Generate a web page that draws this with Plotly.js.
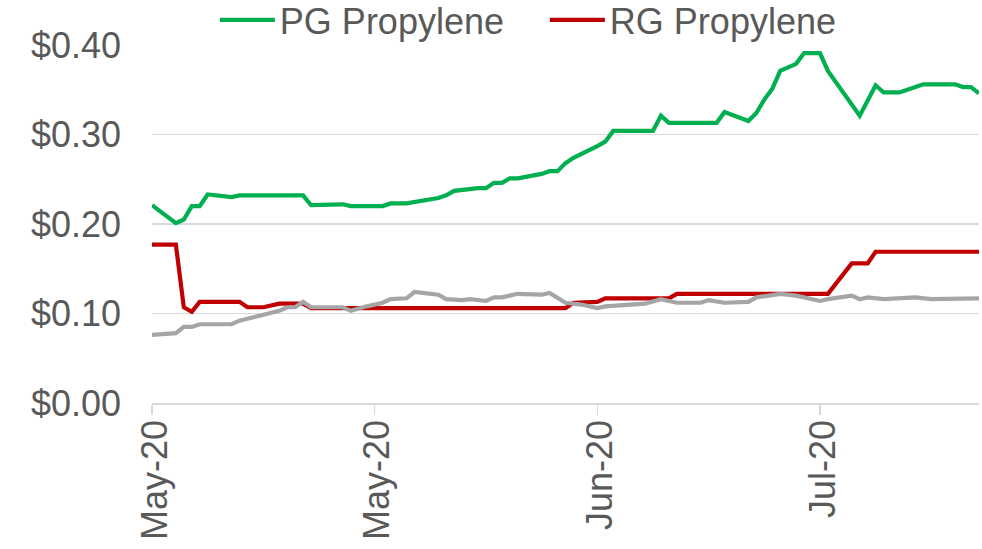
<!DOCTYPE html>
<html>
<head>
<meta charset="utf-8">
<script src="https://cdn.plot.ly/plotly-3.0.1.min.js"></script>
<style>
  html, body { margin: 0; padding: 0; background: #ffffff; }
  #chart { width: 982px; height: 549px; }
</style>
</head>
<body>
<div id="chart"></div>
<script>
// ---- Data ----
const pgDates = ['2020-05-01','2020-05-04','2020-05-05','2020-05-06','2020-05-07','2020-05-08','2020-05-11','2020-05-12','2020-05-20','2020-05-21','2020-05-25','2020-05-26','2020-05-30','2020-05-31','2020-06-02','2020-06-04','2020-06-06','2020-06-07','2020-06-08','2020-06-11','2020-06-12','2020-06-13','2020-06-14','2020-06-15','2020-06-16','2020-06-19','2020-06-20','2020-06-21','2020-06-22','2020-06-23','2020-06-25','2020-06-26','2020-06-27','2020-06-28','2020-07-03','2020-07-04','2020-07-05','2020-07-11','2020-07-12','2020-07-15','2020-07-16','2020-07-17','2020-07-18','2020-07-19','2020-07-21','2020-07-22','2020-07-24','2020-07-25','2020-07-29','2020-07-30','2020-07-31','2020-08-01','2020-08-03','2020-08-05','2020-08-06','2020-08-10','2020-08-11','2020-08-12','2020-08-13'];
const pgValues = [0.221,0.201,0.205,0.220,0.220,0.233,0.230,0.232,0.232,0.221,0.222,0.220,0.220,0.223,0.223,0.226,0.229,0.232,0.237,0.240,0.240,0.246,0.246,0.251,0.251,0.256,0.259,0.259,0.268,0.274,0.282,0.287,0.292,0.304,0.304,0.321,0.313,0.313,0.325,0.315,0.324,0.339,0.351,0.371,0.379,0.391,0.391,0.371,0.321,0.339,0.355,0.347,0.347,0.353,0.356,0.356,0.353,0.353,0.346];

const rgDates = ['2020-05-01','2020-05-04','2020-05-05','2020-05-06','2020-05-07','2020-05-12','2020-05-13','2020-05-15','2020-05-17','2020-05-20','2020-05-21','2020-06-22','2020-06-23','2020-06-26','2020-06-27','2020-07-05','2020-07-06','2020-07-25','2020-07-28','2020-07-30','2020-07-31','2020-08-13'];
const rgValues = [0.177,0.177,0.107,0.102,0.113,0.113,0.107,0.107,0.111,0.111,0.106,0.106,0.112,0.113,0.117,0.117,0.122,0.122,0.156,0.156,0.169,0.169];

const grayDates = ['2020-05-01','2020-05-04','2020-05-05','2020-05-06','2020-05-07','2020-05-11','2020-05-12','2020-05-13','2020-05-14','2020-05-17','2020-05-18','2020-05-19','2020-05-20','2020-05-21','2020-05-25','2020-05-26','2020-05-28','2020-05-30','2020-05-31','2020-06-02','2020-06-03','2020-06-06','2020-06-07','2020-06-09','2020-06-10','2020-06-12','2020-06-13','2020-06-14','2020-06-16','2020-06-19','2020-06-20','2020-06-22','2020-06-24','2020-06-26','2020-06-27','2020-07-02','2020-07-04','2020-07-06','2020-07-09','2020-07-10','2020-07-12','2020-07-15','2020-07-16','2020-07-19','2020-07-21','2020-07-24','2020-07-25','2020-07-28','2020-07-29','2020-07-30','2020-08-01','2020-08-05','2020-08-07','2020-08-10','2020-08-12','2020-08-13'];
const grayValues = [0.076,0.078,0.085,0.085,0.088,0.088,0.092,0.094,0.097,0.103,0.107,0.107,0.113,0.107,0.107,0.103,0.108,0.112,0.116,0.117,0.124,0.121,0.116,0.115,0.116,0.114,0.118,0.118,0.122,0.121,0.123,0.112,0.110,0.106,0.108,0.111,0.116,0.112,0.112,0.115,0.112,0.113,0.118,0.122,0.120,0.114,0.116,0.120,0.116,0.118,0.116,0.118,0.116,0.116,0.117,0.117];

const xTickVals = ['2020-05-01','2020-05-29','2020-06-26','2020-07-24'];
const xTickText = ['May-20','May-20','Jun-20','Jul-20'];
const xRange = ['2020-05-01','2020-08-13'];
const yRange = [0, 0.4];

// ---- Chart ----
const FONT = 'Liberation Sans, Arial, sans-serif';
const TXT = '#595959';

const traces = [
  { type: 'scatter', mode: 'lines', name: 'PG Propylene', x: pgDates, y: pgValues,
    line: { color: '#00B050', width: 4.2 } },
  { type: 'scatter', mode: 'lines', name: 'RG Propylene', x: rgDates, y: rgValues,
    line: { color: '#C00000', width: 4.2 } },
  { type: 'scatter', mode: 'lines', name: 'Series 3', x: grayDates, y: grayValues,
    line: { color: '#A5A5A5', width: 4.2 }, showlegend: false }
];

const layout = {
  width: 982, height: 549,
  margin: { l: 152, r: 3, t: 45, b: 146, autoexpand: false },
  paper_bgcolor: '#ffffff', plot_bgcolor: '#ffffff',
  font: { family: FONT, size: 36, color: TXT },
  showlegend: true,
  legend: {
    orientation: 'h', x: 0.076, xanchor: 'left', y: 1.07, yanchor: 'middle',
    itemwidth: 55, entrywidth: 260, entrywidthmode: 'pixels',
    font: { family: FONT, size: 36, color: TXT }, bgcolor: 'rgba(0,0,0,0)'
  },
  xaxis: {
    type: 'date', range: xRange,
    tickmode: 'array', tickvals: xTickVals, ticktext: xTickText,
    tickangle: -90, ticks: 'outside', ticklen: 10, tickcolor: '#d9d9d9', tickwidth: 1.5,
    ticklabelstandoff: -9, ticklabelshift: 3,
    showline: true, linecolor: '#d9d9d9', linewidth: 1.5,
    showgrid: false, zeroline: false,
    tickfont: { family: FONT, size: 36, color: TXT }
  },
  yaxis: {
    range: yRange, dtick: 0.1, tick0: 0,
    tickprefix: '$', tickformat: '.2f',
    showgrid: true, gridcolor: '#d9d9d9', gridwidth: 1.5,
    zeroline: false, showline: false, ticks: '',
    ticklabelstandoff: 30,
    tickfont: { family: FONT, size: 36, color: TXT }
  }
};

Plotly.newPlot('chart', traces, layout, { displayModeBar: false, staticPlot: true });
</script>
</body>
</html>
